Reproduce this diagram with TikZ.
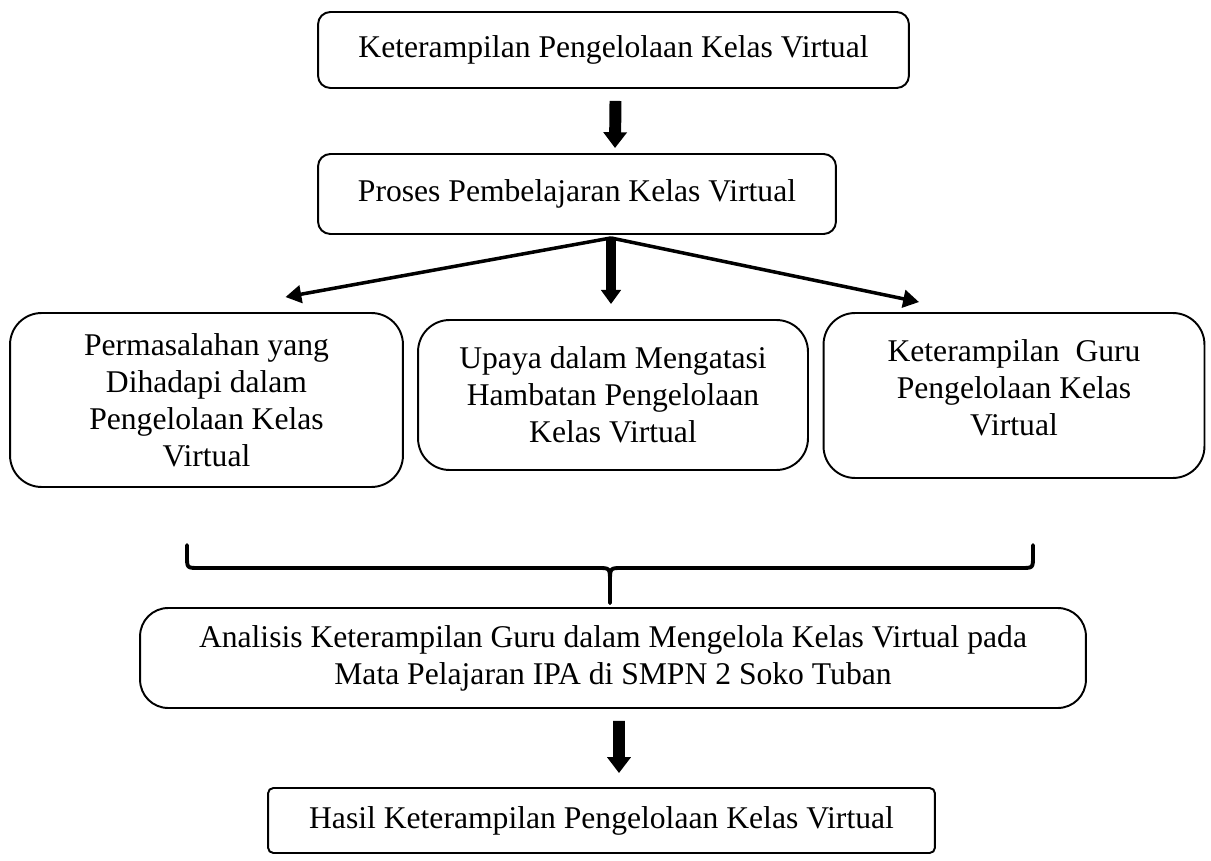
\documentclass[tikz,border=0pt]{standalone}
\usepackage{fontspec}
\setmainfont{Liberation Serif}
\usetikzlibrary{arrows.meta,positioning,calc}

\begin{document}
\begin{tikzpicture}[x=0.02cm,y=-0.02cm,
    box/.style={draw, line width=1.1pt, rounded corners=7pt, align=center, inner sep=0pt,
      font=\fontsize{18}{21}\selectfont},
    bigbox/.style={box, rounded corners=18pt},
    fatarrow/.style={line width=6.8pt, -{Triangle[width=13pt,length=9pt]}},
    thinarrow/.style={line width=2pt, -{Triangle[width=10pt,length=9pt]}},
    bracepath/.style={line width=2.2pt, line cap=round}]
    \useasboundingbox (0,0) rectangle (1211,861);
    % boxes
    \node[box, minimum width=11.82cm, minimum height=1.52cm] (kpkv) at (613.5,50) {Keterampilan Pengelolaan Kelas Virtual};
    \node[box, minimum width=10.36cm, minimum height=1.6cm] (proses) at (577,194) {Proses Pembelajaran Kelas Virtual};
    \node[bigbox, minimum width=7.86cm, minimum height=3.48cm] (masalah) at (206.5,400) {Permasalahan yang\\Dihadapi dalam\\Pengelolaan Kelas\\Virtual};
    \node[bigbox, minimum width=7.8cm, minimum height=3.0cm] (upaya) at (613,395) {Upaya dalam Mengatasi\\Hambatan Pengelolaan\\Kelas Virtual};
    \node[bigbox, minimum width=7.62cm, minimum height=3.3cm] (guru) at (1014,395.5) {Keterampilan~ Guru\\Pengelolaan Kelas\\Virtual\\[-12pt]\mbox{}};
    \node[box, rounded corners=16pt, minimum width=18.92cm, minimum height=2.0cm] (analisis) at (613,658) {Analisis Keterampilan Guru dalam Mengelola Kelas Virtual pada\\Mata Pelajaran IPA di SMPN 2 Soko Tuban};
    \node[box, rounded corners=3pt, minimum width=13.34cm, minimum height=1.3cm] (hasil) at (601.5,820.5) {Hasil Keterampilan Pengelolaan Kelas Virtual};
    % arrows
    \draw[fatarrow] ([shift={(2,12)}]kpkv.south) -- ([shift={(38,-5)}]proses.north);
    \coordinate (fork) at ([shift={(34,3)}]proses.south);
    \coordinate (tipL) at ([shift={(79,-15)}]masalah.north);
    \coordinate (tipR) at ([shift={(-95,-10)}]guru.north);
    \draw[thinarrow] (fork) -- (tipL);
    \draw[thinarrow] (fork) -- (tipR);
    \draw[line width=5.5pt, -{Triangle[width=11pt,length=8pt]}] ([yshift=-0.05cm]fork) -- ([shift={(-2,-15)}]upaya.north);
    % brace
    \coordinate (braceL) at (187,545);
    \coordinate (braceR) at (1033,545);
    \coordinate (braceM) at ([shift={(-3,-4)}]analisis.north);
    \draw[bracepath] (braceL) -- (187,556) .. controls (187,568) .. (199,568) -- (598,568)
      .. controls (610,568) .. (610,582) -- (braceM);
    \draw[bracepath] (braceM) -- (610,582) .. controls (610,568) .. (622,568) -- (1021,568)
      .. controls (1033,568) .. (1033,556) -- (braceR);
    \draw[fatarrow] ([shift={(6,12)}]analisis.south) -- ([shift={(17.5,-14)}]hasil.north);
\end{tikzpicture}
\end{document}
